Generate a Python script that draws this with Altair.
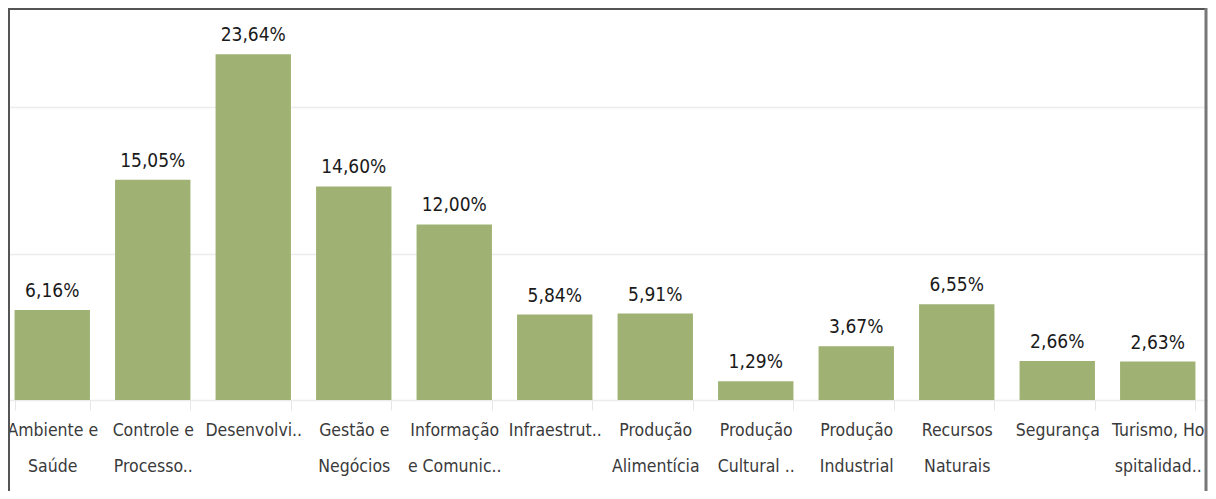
import altair as alt
import pandas as pd

line1 = ["Ambiente e", "Controle e", "Desenvolvi..", "Gestão e", "Informação", "Infraestrut..",
         "Produção", "Produção", "Produção", "Recursos", "Segurança", "Turismo, Ho"]
line2 = ["Saúde", "Processo..", "", "Negócios", "e Comunic..", "",
         "Alimentícia", "Cultural ..", "Industrial", "Naturais", "", "spitalidad.."]
values = [6.16, 15.05, 23.64, 14.60, 12.00, 5.84, 5.91, 1.29, 3.67, 6.55, 2.66, 2.63]

df = pd.DataFrame({
    "cat": [a + "|" + b for a, b in zip(line1, line2)],
    "val": values,
    "lab": [f"{v:.2f}".replace(".", ",") + "%" for v in values],
})

FONT = "DejaVu Sans Condensed, sans-serif"
W, H = 1200, 392

base = alt.Chart(df).encode(
    x=alt.X("cat:N", sort=None,
            scale=alt.Scale(paddingInner=0.25, paddingOuter=0.125, range=[-6, 1200]),
            axis=alt.Axis(title=None, labelAngle=0, labelExpr="split(datum.label, '|')",
                          labelFont=FONT, labelFontSize=17.5, labelColor="#3a3a3a",
                          labelLineHeight=36, tickBand="extent", tickSize=10,
                          tickColor="#e6e6e6", domain=False, labelPadding=11,
                          labelLimit=300))
)

bars = base.mark_bar(color="#9fb273").encode(
    y=alt.Y("val:Q", scale=alt.Scale(domain=[0, 26.8], nice=False),
            axis=alt.Axis(title=None, labels=False, ticks=False, domain=False,
                          values=[0, 10, 20], gridColor="#ececec", gridWidth=1.5))
)

text = base.mark_text(baseline="bottom", dy=-9, font=FONT, fontSize=19, color="#1a1a1a").encode(
    y="val:Q", text="lab:N"
)

frame = pd.DataFrame({"k": [0]})
left = alt.Chart(frame).mark_rule(color="#555555", strokeWidth=2).encode(
    x=alt.value(1), y=alt.value(0), y2=alt.value(483))
top = alt.Chart(frame).mark_rule(color="#555555", strokeWidth=2).encode(
    x=alt.value(0), x2=alt.value(1199), y=alt.value(1))
right = alt.Chart(frame).mark_rule(color="#777777", strokeWidth=3).encode(
    x=alt.value(1198), y=alt.value(0), y2=alt.value(483))

chart = alt.layer(bars, text, left, top, right).properties(
    width=W, height=H, background="white",
    padding={"left": 0, "top": 0, "right": 0, "bottom": 91},
    autosize=alt.AutoSizeParams(type="none"),
).configure_view(stroke=None)

chart.save("out.html", embed_options={"renderer": "svg", "actions": False})
